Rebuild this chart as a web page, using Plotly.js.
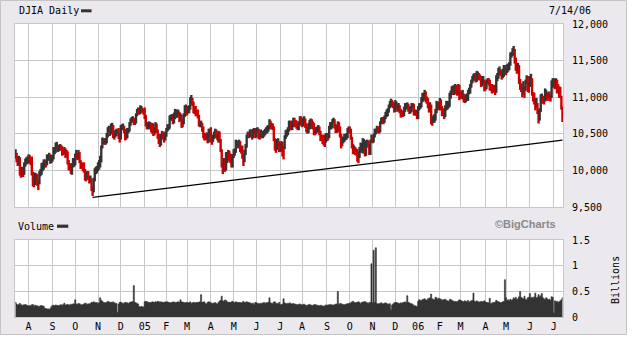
<!DOCTYPE html>
<html><head><meta charset="utf-8">
<script src="https://cdn.plot.ly/plotly-3.0.1.min.js"></script>
<style>html,body{margin:0;padding:0;background:#fff;}#chart{width:638px;height:359px;}</style>
</head><body><div id="chart"></div>
<script>
// ---------- DATA ----------
const startDate = '2004-07-15';
const endDate = '2006-07-14';
const holidays = ['2004-09-06','2004-11-25','2004-12-24','2005-01-17','2005-02-21','2005-03-25','2005-05-30','2005-07-04','2005-09-05','2005-11-24','2005-12-26','2006-01-02','2006-01-16','2006-02-20','2006-04-14','2006-05-29','2006-07-04'];

// daily highs (DJIA points)
const hi = [
10290,10240,10190,10200,10180,10040,10050,10010,10110,10160,10180,10190, // Jul04
10220,10210,10170,10190,9980,9860,9970,9960,9950,9870,9990,10020,10100,10110,10150,10150,10140,10220,10210,10240,10220,10210, // Aug04
10210,10320,10310,10380,10390,10340,10350,10360,10350,10330,10280,10320,10300,10280,10260,10140,10100,10060,10100,10170,10160, // Sep04
10230,10280,10240,10280,10250,10140,10110,10100,10110,10020,9990,9990,9990,9920,9930,9890,9780,9900,10030,10050,10060, // Oct04
10110,10140,10200,10340,10450,10440,10440,10440,10510,10590,10610,10590,10640,10650,10620,10530,10550,10570,10560,10580,10510, // Nov04
10620,10630,10640,10610,10570,10530,10580,10580,10660,10710,10730,10740,10720,10710,10780,10840,10860,10850,10890,10880,10850,10840, // Dec04
10860,10760,10660,10660,10670,10660,10640,10650,10640,10590,10660,10640,10560,10500,10430,10500,10540,10530,10500,10530, // Jan05
10580,10630,10630,10750,10760,10770,10760,10790,10840,10830,10830,10830,10800,10780,10760,10700,10780,10890,10900, // Feb05
10870,10880,10890,11000,11030,10990,10940,10880,10880,10830,10830,10760,10670,10680,10650,10600,10510,10500,10520,10510,10570,10570, // Mar05
10590,10460,10490,10530,10570,10560,10500,10540,10530,10430,10290,10100,10170,10170,10250,10250,10280,10270,10230,10220,10220, // Apr05
10290,10300,10420,10410,10400,10420,10400,10330,10340,10220,10280,10360,10490,10530,10520,10560,10560,10530,10570,10580,10570, // May05
10580,10590,10570,10500,10560,10530,10540,10550,10570,10590,10610,10620,10700,10680,10650,10640,10600,10440,10330,10430,10440,10400, // Jun05
10370,10400,10390,10330,10480,10550,10560,10590,10680,10680,10670,10680,10720,10720,10690,10680,10640,10670,10740,10740, // Jul05
10700,10720,10740,10710,10640,10600,10650,10690,10710,10700,10670,10650,10590,10590,10600,10620,10600,10540,10490,10480,10490,10480,10510, // Aug05
10510,10490,10610,10660,10660,10700,10720,10700,10630,10600,10670,10660,10600,10500,10460,10460,10500,10490,10510,10580,10600, // Sep05
10600,10570,10460,10360,10340,10320,10300,10290,10260,10320,10380,10370,10440,10430,10320,10410,10420,10410,10360,10420,10490, // Oct05
10470,10500,10570,10570,10610,10600,10600,10670,10720,10730,10730,10750,10800,10830,10850,10900,10950,10980,10960,10940,10910, // Nov05
10960,10940,10900,10920,10890,10840,10820,10810,10870,10920,10920,10930,10910,10870,10880,10920,10920,10910,10830,10830,10800, // Dec05
10880,10920,10920,11000,11060,11060,11100,11080,11010,10990,10930,10930,10900,10730,10750,10770,10840,10950,10940,10930, // Jan06
10990,10970,10880,10850,10830,10890,10950,10950,10940,11060,11090,11150,11160,11160,11180,11170,11110,11180,11170, // Feb06
11090,11080,11100,11050,11010,11040,11050,11100,11130,11180,11240,11290,11320,11330,11330,11360,11350,11330,11310,11290,11280,11290,11240, // Mar06
11220,11240,11260,11260,11240,11180,11180,11160,11170,11160,11300,11330,11400,11420,11380,11360,11390,11440,11420, // Apr06
11440,11450,11460,11480,11610,11620,11670,11700,11660,11540,11460,11470,11440,11250,11190,11160,11220,11150,11240,11300,11290,11200, // May06
11290,11320,11260,11070,11060,10980,10990,10920,10830,10850,11040,11050,11020,11010,11120,11100,11050,11070,11080,11040,11230,11260, // Jun06
11260,11240,11260,11240,11180,11150,11140,11020,10870 // Jul06
];

// daily lows (DJIA points)
const lo = [
10160,10110,10060,10070,9930,9900,9920,9910,9940,10050,10080,10090, // Jul04
10100,10090,10070,9930,9780,9770,9800,9860,9790,9730,9810,9920,9940,9990,10010,10040,10040,10070,10130,10150,10090,10100, // Aug04
10120,10150,10220,10240,10280,10250,10260,10280,10270,10200,10210,10220,10170,10180,10080,10000,10000,9950,9940,10040,10050, // Sep04
10070,10160,10140,10150,10100,10020,10030,9990,9970,9860,9850,9880,9870,9820,9830,9720,9650,9700,9850,9950,9960, // Oct04
9990,10010,10040,10110,10300,10360,10350,10350,10370,10450,10520,10470,10490,10540,10440,10420,10450,10470,10500,10430,10380, // Nov04
10420,10550,10550,10510,10410,10420,10440,10510,10530,10610,10650,10660,10620,10620,10640,10740,10790,10760,10770,10800,10780,10760, // Dec04
10700,10600,10560,10570,10560,10570,10520,10500,10470,10480,10510,10510,10430,10360,10320,10340,10430,10420,10380,10410, // Jan05
10460,10530,10550,10570,10680,10680,10630,10640,10700,10720,10720,10740,10660,10680,10580,10590,10630,10730,10750, // Feb05
10750,10780,10780,10830,10910,10880,10780,10770,10740,10740,10710,10600,10590,10590,10530,10440,10410,10410,10420,10370,10380,10470, // Mar05
10380,10350,10390,10430,10450,10440,10410,10380,10380,10250,10040,9950,10020,9980,10000,10100,10140,10120,10100,10040,10040, // Apr05
10170,10200,10240,10310,10300,10320,10250,10230,10160,10060,10110,10210,10310,10440,10440,10450,10470,10420,10440,10500,10440, // May05
10450,10510,10430,10420,10440,10440,10440,10460,10480,10500,10510,10530,10560,10570,10560,10550,10400,10270,10240,10280,10340,10250, // Jun05
10250,10260,10190,10150,10290,10430,10460,10480,10530,10590,10550,10550,10600,10590,10590,10570,10550,10550,10620,10610, // Jul05
10590,10600,10640,10580,10520,10500,10510,10560,10570,10570,10560,10480,10480,10500,10520,10520,10480,10400,10400,10360,10340,10320,10380, // Aug05
10400,10410,10440,10560,10560,10580,10640,10570,10510,10510,10530,10520,10450,10300,10330,10370,10390,10410,10420,10440,10520, // Sep05
10500,10420,10300,10220,10250,10210,10200,10120,10100,10170,10240,10260,10230,10250,10190,10200,10330,10310,10210,10210,10380, // Oct05
10370,10380,10450,10490,10510,10510,10500,10520,10630,10650,10630,10650,10700,10730,10740,10790,10850,10900,10860,10850,10790, // Nov05
10800,10840,10800,10810,10780,10720,10730,10730,10740,10800,10830,10840,10800,10770,10780,10800,10850,10750,10750,10750,10700, // Dec05
10700,10820,10840,10860,10930,10950,10970,10930,10910,10850,10790,10820,10630,10610,10650,10650,10680,10780,10830,10820, // Jan06
10830,10820,10740,10750,10700,10730,10820,10830,10850,10870,10980,11030,11070,11030,11040,11040,11020,11030,10960, // Feb06
10980,10980,10970,10930,10920,10930,10950,10950,11040,11050,11130,11190,11220,11240,11200,11210,11240,11230,11230,11140,11150,11170,11080, // Mar06
11090,11110,11180,11160,11090,11090,11050,11060,11080,11030,11060,11220,11250,11300,11290,11240,11260,11280,11330, // Apr06
11300,11330,11350,11370,11430,11540,11560,11580,11460,11360,11320,11370,11180,11100,11070,11000,11040,10990,11090,11180,11070,11060, // May06
11140,11180,11020,10940,10900,10820,10860,10770,10640,10680,10800,10950,10910,10900,10940,10960,10950,10990,10950,10940,10990,11130, // Jun06
11140,11110,11130,11050,11070,10990,10990,10830,10660 // Jul06
];

// daily volume (millions of shares)
const volumeM = [
290,260,240,250,270,250,230,240,245,250,240,230, // Jul04
220,230,225,245,250,215,235,230,225,210,215,225,230,220,215,175,170,160,165,150,170,205, // Aug04
230,235,225,240,235,230,225,240,245,235,250,275,240,245,250,245,235,255,250,260,265, // Sep04
340,260,255,270,265,250,240,250,260,275,270,255,260,265,270,290,285,300,290,280,285, // Oct04
275,280,380,330,310,290,285,280,290,310,300,285,295,280,300,280,275,270,100,260,290, // Nov04
295,280,270,275,290,285,280,270,285,295,300,305,615,290,280,270,260,210,200,215,205,200, // Dec04
300,310,305,295,280,290,285,300,295,290,300,295,310,305,290,300,295,285,290,300, // Jan05
295,300,290,285,280,290,295,300,280,290,295,300,290,340,300,295,290,280,285, // Feb05
290,285,280,300,275,280,290,285,280,290,285,295,300,440,290,295,300,270,265,290,300,295, // Mar05
280,275,270,280,285,270,265,290,310,330,410,320,310,335,330,300,290,295,285,300,310, // Apr05
290,285,300,295,280,290,285,280,290,310,285,290,300,295,285,280,275,270,275,250,290, // May05
280,275,270,265,275,270,280,285,275,280,285,290,380,280,275,270,295,300,270,275,265,290, // Jun05
250,245,260,360,280,270,265,275,270,280,260,265,270,260,255,250,245,255,260,245, // Jul05
245,250,255,240,230,235,245,250,240,235,230,245,250,240,235,230,225,235,230,220,215,225,240, // Aug05
235,240,245,250,245,240,235,250,255,260,500,255,270,265,255,250,245,250,260,265,270, // Sep05
275,280,300,310,290,285,280,295,300,285,270,290,295,300,305,290,280,275,285,290,1040, // Oct05
280,1300,290,1350,270,260,265,275,280,270,265,275,280,270,260,255,265,150,240,260,280, // Nov05
290,285,280,275,270,280,275,285,290,300,285,420,290,280,270,265,255,230,225,220,210, // Dec05
310,340,330,320,345,350,360,340,330,360,370,380,450,360,350,340,390,380,350,370, // Jan06
360,350,330,340,345,350,330,320,310,340,350,330,320,300,310,305,300,320,340, // Feb06
330,320,310,300,320,310,305,330,290,310,320,330,470,310,300,320,305,300,290,310,305,300,320, // Mar06
300,290,285,280,370,270,275,290,280,295,330,310,300,295,280,290,300,310,730, // Apr06
380,330,340,320,350,330,340,380,360,390,350,360,400,500,390,370,360,410,350,340,380,390, // May06
460,380,390,370,400,470,380,390,440,400,420,460,380,360,350,380,360,340,350,330,400,390, // Jun06
90,320,300,310,290,300,320,340,380 // Jul06
];

const trendDates = ['2004-10-25', '2006-07-14'];
const trendValues = [9632, 10413];
const priceTicks = [9500, 10000, 10500, 11000, 11500, 12000];
const volumeTicks = [0, 0.5, 1, 1.5];
const volumeTickText = ['0', '0.5', '1', '1.5'];
const monthLetters = ['J','F','M','A','M','J','J','A','S','O','N','D'];

// ---------- BUILD ----------
const dates = [];
{
  let d = new Date(startDate + 'T00:00:00Z');
  const end = new Date(endDate + 'T00:00:00Z');
  while (d <= end) {
    const dow = d.getUTCDay();
    const s = d.toISOString().slice(0, 10);
    if (dow !== 0 && dow !== 6 && !holidays.includes(s)) dates.push(s);
    d = new Date(d.getTime() + 86400000);
  }
}
const n = Math.min(dates.length, hi.length, lo.length, volumeM.length);
const idx = [...Array(n).keys()];
const mid = idx.map(i => (hi[i] + lo[i]) / 2);
const colors = idx.map(i => (i > 0 && mid[i] < mid[i - 1]) ? '#cc0000' : '#333333');
const tickvals = [], ticktext = [];
for (let i = 1; i < n; i++) {
  if (dates[i].slice(5, 7) !== dates[i - 1].slice(5, 7)) {
    tickvals.push(i);
    const m = +dates[i].slice(5, 7);
    ticktext.push(m === 1 ? dates[i].slice(2, 4) : monthLetters[m - 1]);
  }
}

const W = 638, H = 359;
const px = v => v / W, py = v => 1 - v / H;
const gridC = '#c8c8c8';
const mono = 'DejaVu Sans Mono, Liberation Mono, monospace';

const traces = [
  { type: 'bar', x: idx, y: idx.map(i => hi[i] - lo[i]), base: idx.map(i => lo[i]),
    marker: { color: colors, line: { width: 0 } }, width: 2.2, xaxis: 'x', yaxis: 'y', hoverinfo: 'skip' },
  { type: 'scatter', mode: 'lines', x: trendDates.map(t => dates.indexOf(t)), y: trendValues,
    line: { color: '#000000', width: 1.2 }, xaxis: 'x', yaxis: 'y', hoverinfo: 'skip' },
  { type: 'scatter', mode: 'lines', x: idx, y: idx.map(i => volumeM[i] / 1000),
    line: { shape: 'hvh', color: '#333333', width: 0.6 }, fill: 'tozeroy', fillcolor: '#333333',
    xaxis: 'x2', yaxis: 'y2', hoverinfo: 'skip' }
];

const xCommon = {
  domain: [px(15), px(563)], range: [-0.5, n - 0.5], tickvals: tickvals,
  showgrid: true, gridcolor: gridC, gridwidth: 1, zeroline: false,
  showline: true, mirror: true, linecolor: gridC, linewidth: 1, ticks: '', fixedrange: true
};

const layout = {
  width: W, height: H, margin: { l: 0, r: 0, t: 0, b: 0, pad: 0 },
  paper_bgcolor: '#ebe8ee', plot_bgcolor: '#ffffff',
  showlegend: false, barmode: 'overlay', hovermode: false,
  font: { family: mono, size: 10, color: '#000000' },
  xaxis: Object.assign({}, xCommon, { anchor: 'y', showticklabels: false }),
  yaxis: { domain: [py(207), py(24)], range: [9500, 12000], tickvals: priceTicks, tickformat: ',.0f',
    side: 'right', anchor: 'x', showgrid: true, gridcolor: gridC, zeroline: false,
    showline: true, mirror: true, linecolor: gridC, ticks: '', ticklabelstandoff: 6,
    tickfont: { family: mono, size: 10, color: '#000' } },
  xaxis2: Object.assign({}, xCommon, { anchor: 'y2', ticktext: ticktext, showticklabels: true,
    tickfont: { family: mono, size: 10, color: '#000' } }),
  yaxis2: { domain: [py(317.3), py(240)], range: [0, 1.5], tickvals: volumeTicks, ticktext: volumeTickText,
    side: 'right', anchor: 'x2', showgrid: true, gridcolor: gridC, zeroline: false,
    showline: true, mirror: true, linecolor: gridC, ticks: '', ticklabelstandoff: 6,
    tickfont: { family: mono, size: 10, color: '#000' } },
  shapes: [
    { type: 'rect', xref: 'paper', yref: 'paper', x0: px(626.5), x1: 1, y0: 0, y1: 1, fillcolor: '#ffffff', line: { width: 0 }, layer: 'above' },
    { type: 'rect', xref: 'paper', yref: 'paper', x0: 0, x1: 1, y0: 0, y1: py(334.5), fillcolor: '#ffffff', line: { width: 0 }, layer: 'above' },
    { type: 'rect', xref: 'paper', yref: 'paper', x0: px(0.5), x1: px(626.5), y0: py(334.5), y1: py(0.5), line: { color: '#c4c4c4', width: 1 }, layer: 'above' },
    { type: 'rect', xref: 'paper', yref: 'paper', x0: px(81), x1: px(91.5), y0: py(12.3), y1: py(9.3), fillcolor: '#333333', line: { width: 0 } },
    { type: 'rect', xref: 'paper', yref: 'paper', x0: px(57), x1: px(68.3), y0: py(227.8), y1: py(224.6), fillcolor: '#333333', line: { width: 0 } }
  ],
  annotations: [
    { text: 'DJIA Daily', xref: 'paper', yref: 'paper', x: px(16.5), y: py(11), xanchor: 'left', yanchor: 'middle', showarrow: false, font: { family: mono, size: 10, color: '#000' } },
    { text: '7/14/06', xref: 'paper', yref: 'paper', x: px(592.5), y: py(10), xanchor: 'right', yanchor: 'middle', showarrow: false, font: { family: mono, size: 10, color: '#000' } },
    { text: 'Volume', xref: 'paper', yref: 'paper', x: px(15.5), y: py(226.5), xanchor: 'left', yanchor: 'middle', showarrow: false, font: { family: mono, size: 10, color: '#000' } },
    { text: '<b>©BigCharts</b>', xref: 'paper', yref: 'paper', x: px(557.5), y: py(224), xanchor: 'right', yanchor: 'middle', showarrow: false, font: { family: 'Liberation Sans, Arial, sans-serif', size: 11, color: '#8a8a8a' } },
    { text: 'Billions', xref: 'paper', yref: 'paper', x: px(615), y: py(280), xanchor: 'center', yanchor: 'middle', textangle: -90, showarrow: false, font: { family: mono, size: 10, color: '#000' } }
  ]
};

Plotly.newPlot('chart', traces, layout, { staticPlot: true, displayModeBar: false });
</script>
</body></html>
